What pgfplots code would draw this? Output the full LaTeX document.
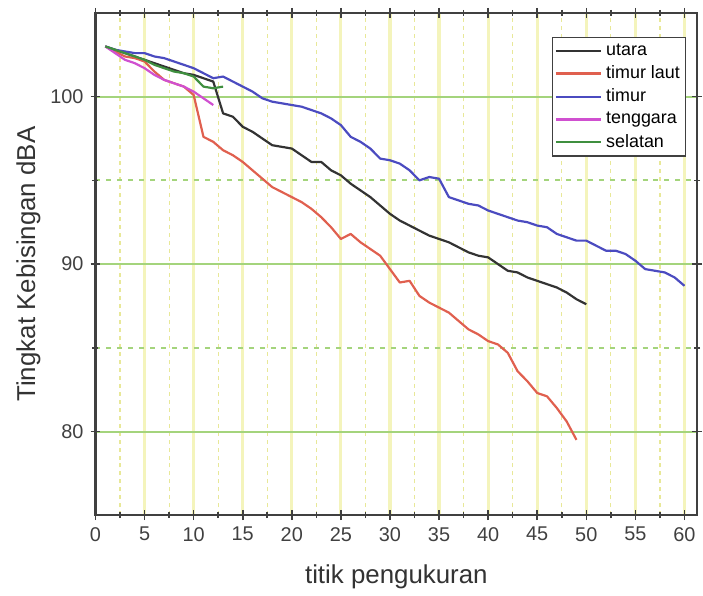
\documentclass[border=0pt]{standalone}
\usepackage{pgfplots}
\pgfplotsset{compat=1.18}
\usepackage{pgfplotstable}
\usepackage{fontspec}
\setmainfont{Liberation Sans}

\definecolor{cblack}{HTML}{333333}
\definecolor{cred}{HTML}{E0604F}
\definecolor{cblue}{HTML}{4B4BC0}
\definecolor{cmag}{HTML}{D050D0}
\definecolor{cgreen}{HTML}{3F8F3F}
\definecolor{gridg}{HTML}{A4D47C}
\definecolor{gridy}{HTML}{F4F4BC}
\definecolor{gridyd}{HTML}{E8E898}

% utara
\pgfplotstableread{
x y
1 103.0
2 102.8
3 102.6
4 102.4
5 102.2
6 102.0
7 101.8
8 101.6
9 101.4
10 101.3
11 101.1
12 100.9
13 99.0
14 98.8
15 98.2
16 97.9
17 97.5
18 97.1
19 97.0
20 96.9
21 96.5
22 96.1
23 96.1
24 95.6
25 95.3
26 94.8
27 94.4
28 94.0
29 93.5
30 93.0
31 92.6
32 92.3
33 92.0
34 91.7
35 91.5
36 91.3
37 91.0
38 90.7
39 90.5
40 90.4
41 90.0
42 89.6
43 89.5
44 89.2
45 89.0
46 88.8
47 88.6
48 88.3
49 87.9
50 87.6
}\utara

% timur laut
\pgfplotstableread{
x y
1 103.0
2 102.7
3 102.4
4 102.3
5 102.1
6 101.5
7 101.0
8 100.8
9 100.6
10 100.1
11 97.6
12 97.3
13 96.8
14 96.5
15 96.1
16 95.6
17 95.1
18 94.6
19 94.3
20 94.0
21 93.7
22 93.3
23 92.8
24 92.2
25 91.5
26 91.8
27 91.3
28 90.9
29 90.5
30 89.7
31 88.9
32 89.0
33 88.1
34 87.7
35 87.4
36 87.1
37 86.6
38 86.1
39 85.8
40 85.4
41 85.2
42 84.7
43 83.6
44 83.0
45 82.3
46 82.1
47 81.4
48 80.6
49 79.5
}\timurlaut

% timur
\pgfplotstableread{
x y
1 103.0
2 102.8
3 102.7
4 102.6
5 102.6
6 102.4
7 102.3
8 102.1
9 101.9
10 101.7
11 101.4
12 101.1
13 101.2
14 100.9
15 100.6
16 100.3
17 99.9
18 99.7
19 99.6
20 99.5
21 99.4
22 99.2
23 99.0
24 98.7
25 98.3
26 97.6
27 97.3
28 96.9
29 96.3
30 96.2
31 96.0
32 95.6
33 95.0
34 95.2
35 95.1
36 94.0
37 93.8
38 93.6
39 93.5
40 93.2
41 93.0
42 92.8
43 92.6
44 92.5
45 92.3
46 92.2
47 91.8
48 91.6
49 91.4
50 91.4
51 91.1
52 90.8
53 90.8
54 90.6
55 90.2
56 89.7
57 89.6
58 89.5
59 89.2
60 88.7
}\timur

% tenggara
\pgfplotstableread{
x y
1 103.0
2 102.6
3 102.2
4 102.0
5 101.7
6 101.3
7 101.0
8 100.8
9 100.6
10 100.3
11 99.9
12 99.5
}\tenggara

% selatan
\pgfplotstableread{
x y
1 103.0
2 102.8
3 102.6
4 102.4
5 102.2
6 101.9
7 101.7
8 101.5
9 101.4
10 101.2
11 100.6
12 100.5
13 100.6
}\selatan

\begin{document}
\begin{tikzpicture}
\begin{axis}[
  name=ax,
  width=302.5pt, height=252.5pt, scale only axis,
  xmin=0, xmax=61.3, ymin=75, ymax=105,
  xtick={0,5,...,60}, minor xtick={2.5,7.5,...,57.5},
  ytick={80,90,100}, minor ytick={85,95},
  grid=both,
  major x grid style={gridy, line width=1.6pt},
  minor x grid style={gridyd, dash pattern=on 2pt off 2pt, line width=0.6pt},
  major y grid style={gridg, line width=1pt},
  minor y grid style={gridg, dash pattern=on 2.5pt off 3pt, line width=1pt},
  axis line style={black!75, line width=1.2pt},
  tick style={black!75, line width=0.8pt},
  tick align=center, major tick length=5pt, minor tick length=3pt,
  ticklabel style={font=\fontsize{10}{12}\selectfont, text=black!75},
  /pgf/number format/assume math mode=true,
  xlabel={titik pengukuran}, ylabel={Tingkat Kebisingan dBA},
  label style={font=\fontsize{13}{15}\selectfont, text=black!80},
  xlabel style={at={(axis description cs:0.5,-0.1218)}, anchor=center},
  ylabel style={at={(axis description cs:-0.1116,0.5)}, anchor=center},
  legend style={at={(0.982,0.952)}, anchor=north east,
    font=\fontsize{9}{11}\selectfont, draw=black!75, line width=0.6pt,
    inner sep=1pt, row sep=-0.3pt, fill=white},
  legend cell align=left,
  legend image code/.code={\draw[#1] (-0.08cm,0cm) -- (0.72cm,0cm);},
  every axis plot/.append style={line width=1.1pt, line join=round},
]
\addplot[cblack] table[x=x,y=y] {\utara};
\addlegendentry{utara}
\addplot[cred] table[x=x,y=y] {\timurlaut};
\addlegendentry{timur laut}
\addplot[cblue] table[x=x,y=y] {\timur};
\addlegendentry{timur}
\addplot[cmag] table[x=x,y=y] {\tenggara};
\addlegendentry{tenggara}
\addplot[cgreen] table[x=x,y=y] {\selatan};
\addlegendentry{selatan}
\end{axis}
\path ([xshift=-48pt,yshift=-38pt]ax.south west) ([xshift=1pt,yshift=6.5pt]ax.north east);
\end{tikzpicture}
\end{document}
